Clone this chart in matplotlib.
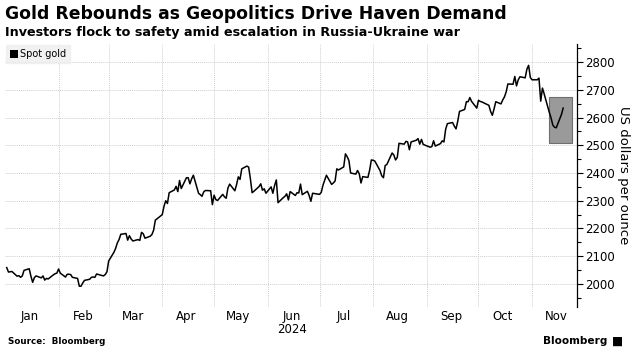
import numpy as np
import pandas as pd
import matplotlib
matplotlib.use("Agg")
import matplotlib.pyplot as plt
import matplotlib.dates as mdates
from matplotlib.patches import Rectangle, Patch
from matplotlib.ticker import MultipleLocator

# spot gold, US$/oz, 2024
dates = [
    "2024-01-02", "2024-01-03", "2024-01-04", "2024-01-05", "2024-01-08", "2024-01-09", "2024-01-10",
    "2024-01-11", "2024-01-12", "2024-01-15", "2024-01-16", "2024-01-17", "2024-01-18", "2024-01-19",
    "2024-01-22", "2024-01-23", "2024-01-24", "2024-01-25", "2024-01-26", "2024-01-29", "2024-01-30",
    "2024-01-31", "2024-02-01", "2024-02-02", "2024-02-05", "2024-02-06", "2024-02-07", "2024-02-08",
    "2024-02-09", "2024-02-12", "2024-02-13", "2024-02-14", "2024-02-15", "2024-02-16", "2024-02-19",
    "2024-02-20", "2024-02-21", "2024-02-22", "2024-02-23", "2024-02-26", "2024-02-27", "2024-02-28",
    "2024-02-29", "2024-03-01", "2024-03-04", "2024-03-05", "2024-03-06", "2024-03-07", "2024-03-08",
    "2024-03-11", "2024-03-12", "2024-03-13", "2024-03-14", "2024-03-15", "2024-03-18", "2024-03-19",
    "2024-03-20", "2024-03-21", "2024-03-22", "2024-03-25", "2024-03-26", "2024-03-27", "2024-03-28",
    "2024-04-01", "2024-04-02", "2024-04-03", "2024-04-04", "2024-04-05", "2024-04-08", "2024-04-09",
    "2024-04-10", "2024-04-11", "2024-04-12", "2024-04-15", "2024-04-16", "2024-04-17", "2024-04-18",
    "2024-04-19", "2024-04-22", "2024-04-23", "2024-04-24", "2024-04-25", "2024-04-26", "2024-04-29",
    "2024-04-30", "2024-05-01", "2024-05-02", "2024-05-03", "2024-05-06", "2024-05-07", "2024-05-08",
    "2024-05-09", "2024-05-10", "2024-05-13", "2024-05-14", "2024-05-15", "2024-05-16", "2024-05-17",
    "2024-05-20", "2024-05-21", "2024-05-22", "2024-05-23", "2024-05-24", "2024-05-27", "2024-05-28",
    "2024-05-29", "2024-05-30", "2024-05-31", "2024-06-03", "2024-06-04", "2024-06-05", "2024-06-06",
    "2024-06-07", "2024-06-10", "2024-06-11", "2024-06-12", "2024-06-13", "2024-06-14", "2024-06-17",
    "2024-06-18", "2024-06-19", "2024-06-20", "2024-06-21", "2024-06-24", "2024-06-25", "2024-06-26",
    "2024-06-27", "2024-06-28", "2024-07-01", "2024-07-02", "2024-07-03", "2024-07-05", "2024-07-08",
    "2024-07-09", "2024-07-10", "2024-07-11", "2024-07-12", "2024-07-15", "2024-07-16", "2024-07-17",
    "2024-07-18", "2024-07-19", "2024-07-22", "2024-07-23", "2024-07-24", "2024-07-25", "2024-07-26",
    "2024-07-29", "2024-07-30", "2024-07-31", "2024-08-01", "2024-08-02", "2024-08-05", "2024-08-06",
    "2024-08-07", "2024-08-08", "2024-08-09", "2024-08-12", "2024-08-13", "2024-08-14", "2024-08-15",
    "2024-08-16", "2024-08-19", "2024-08-20", "2024-08-21", "2024-08-22", "2024-08-23", "2024-08-26",
    "2024-08-27", "2024-08-28", "2024-08-29", "2024-08-30", "2024-09-03", "2024-09-04", "2024-09-05",
    "2024-09-06", "2024-09-09", "2024-09-10", "2024-09-11", "2024-09-12", "2024-09-13", "2024-09-16",
    "2024-09-17", "2024-09-18", "2024-09-19", "2024-09-20", "2024-09-23", "2024-09-24", "2024-09-25",
    "2024-09-26", "2024-09-27", "2024-09-30", "2024-10-01", "2024-10-02", "2024-10-03", "2024-10-04",
    "2024-10-07", "2024-10-08", "2024-10-09", "2024-10-10", "2024-10-11", "2024-10-14", "2024-10-15",
    "2024-10-16", "2024-10-17", "2024-10-18", "2024-10-21", "2024-10-22", "2024-10-23", "2024-10-24",
    "2024-10-25", "2024-10-28", "2024-10-29", "2024-10-30", "2024-10-31", "2024-11-01", "2024-11-04",
    "2024-11-05", "2024-11-06", "2024-11-07", "2024-11-08", "2024-11-11", "2024-11-12", "2024-11-13",
    "2024-11-14", "2024-11-15", "2024-11-18", "2024-11-19",
]
spot_gold = [
    2059, 2043, 2044, 2045, 2028, 2030, 2024, 2029, 2049, 2055, 2028,
    2006, 2023, 2029, 2022, 2029, 2014, 2020, 2018, 2033, 2037, 2039,
    2054, 2039, 2025, 2035, 2035, 2034, 2024, 2020, 1992, 1992, 2004,
    2013, 2017, 2024, 2025, 2024, 2036, 2031, 2029, 2034, 2044, 2083,
    2114, 2128, 2148, 2160, 2179, 2182, 2158, 2174, 2162, 2155, 2160,
    2157, 2186, 2181, 2165, 2172, 2178, 2194, 2230, 2250, 2280, 2300,
    2290, 2329, 2339, 2352, 2333, 2373, 2344, 2383, 2383, 2361, 2379,
    2392, 2327, 2322, 2316, 2332, 2337, 2336, 2286, 2320, 2304, 2301,
    2323, 2314, 2309, 2346, 2360, 2336, 2358, 2386, 2377, 2415, 2425,
    2421, 2379, 2329, 2334, 2351, 2361, 2338, 2343, 2327, 2350, 2327,
    2355, 2375, 2293, 2311, 2316, 2325, 2303, 2333, 2319, 2329, 2328,
    2360, 2322, 2334, 2319, 2298, 2327, 2326, 2323, 2330, 2356, 2392,
    2359, 2364, 2371, 2415, 2411, 2422, 2469, 2459, 2445, 2400, 2396,
    2409, 2397, 2364, 2387, 2384, 2410, 2447, 2446, 2443, 2409, 2390,
    2383, 2427, 2431, 2472, 2465, 2447, 2456, 2507, 2504, 2514, 2512,
    2484, 2512, 2518, 2524, 2504, 2521, 2503, 2493, 2495, 2516, 2497,
    2506, 2516, 2512, 2558, 2578, 2582, 2569, 2559, 2587, 2622, 2629,
    2657, 2657, 2672, 2658, 2634, 2662, 2658, 2656, 2653, 2644, 2622,
    2608, 2631, 2657, 2649, 2663, 2674, 2692, 2721, 2720, 2748, 2714,
    2736, 2747, 2743, 2774, 2788, 2744, 2736, 2736, 2742, 2659, 2706,
    2685, 2618, 2598, 2573, 2565, 2563, 2611, 2634,
]
month_labels = ["Jan", "Feb", "Mar", "Apr", "May", "Jun", "Jul", "Aug", "Sep", "Oct", "Nov"]
year_label = "2024"

x = pd.to_datetime(dates)
y = np.array(spot_gold)

fig = plt.figure(figsize=(6.34, 3.62), dpi=100)
ax = fig.add_axes([5 / 634, 1 - 307 / 362, 572 / 634, 263 / 362])

ax.plot(x, y, color="black", lw=1.1, zorder=3)

# highlight box on the November rebound
x0 = mdates.date2num(pd.Timestamp("2024-11-11"))
x1 = mdates.date2num(pd.Timestamp("2024-11-24"))
ax.add_patch(Rectangle((x0, 2508), x1 - x0, 166, facecolor="#9a9a9a",
                       edgecolor="#6e6e6e", lw=0.8, zorder=2))

ax.set_xlim(pd.Timestamp("2024-01-01"), pd.Timestamp("2024-11-27"))
ax.set_ylim(1917, 2865)

for s in ["left", "top", "bottom"]:
    ax.spines[s].set_visible(False)
ax.spines["right"].set_color("black")
ax.spines["right"].set_linewidth(0.9)

ax.yaxis.tick_right()
ax.yaxis.set_label_position("right")
ax.yaxis.set_minor_locator(MultipleLocator(50))
ax.set_yticks(np.arange(2000, 2801, 100))
ax.tick_params(axis="y", which="major", length=4, width=0.8, pad=2, labelsize=8.5, colors="black")
ax.tick_params(axis="y", which="minor", length=3, width=0.8)
ax.set_ylabel("US dollars per ounce", rotation=270, labelpad=11, fontsize=9.5)

# month gridlines at month starts, labels centred mid-month
ax.set_xticks(pd.date_range("2024-02-01", "2024-11-01", freq="MS"))
ax.set_xticklabels([])
ax.set_xticks([pd.Timestamp(2024, m, 15) for m in range(1, 12)], minor=True)
ax.set_xticklabels(month_labels, minor=True)
ax.tick_params(axis="x", which="both", length=0, labelsize=8.5, pad=2)
ax.text(pd.Timestamp(2024, 6, 15), -0.062, year_label, transform=ax.get_xaxis_transform(),
        ha="center", va="top", fontsize=8.5)

ax.grid(True, which="major", color="#cfcfcf", lw=0.7, ls=(0, (1, 1)))

leg = ax.legend([Patch(facecolor="black")], ["Spot gold"], loc="upper left",
                bbox_to_anchor=(0.0, 1.0), frameon=True, fontsize=7,
                handlelength=0.8, handleheight=0.8, handletextpad=0.2,
                borderpad=0.4, borderaxespad=0.15, fancybox=False)
leg.get_frame().set_facecolor("#eeeeee")
leg.get_frame().set_edgecolor("#eeeeee")

fig.text(5 / 634, 1 - 5 / 362, "Gold Rebounds as Geopolitics Drive Haven Demand",
         fontsize=12.4, fontweight="bold", ha="left", va="top")
fig.text(5 / 634, 1 - 26 / 362, "Investors flock to safety amid escalation in Russia-Ukraine war",
         fontsize=9.2, fontweight="bold", ha="left", va="top")
fig.text(8 / 634, 1 - 337 / 362, "Source:  Bloomberg", fontsize=6.3, fontweight="bold",
         ha="left", va="top")
fig.text(607 / 634, 1 - 341 / 362, "Bloomberg", fontsize=7.6, fontweight="bold",
         ha="right", va="center")
fig.text(618 / 634, 1 - 341 / 362, "\u25a0", fontsize=8.5, ha="center", va="center")

fig.savefig("out.png", dpi=100)
